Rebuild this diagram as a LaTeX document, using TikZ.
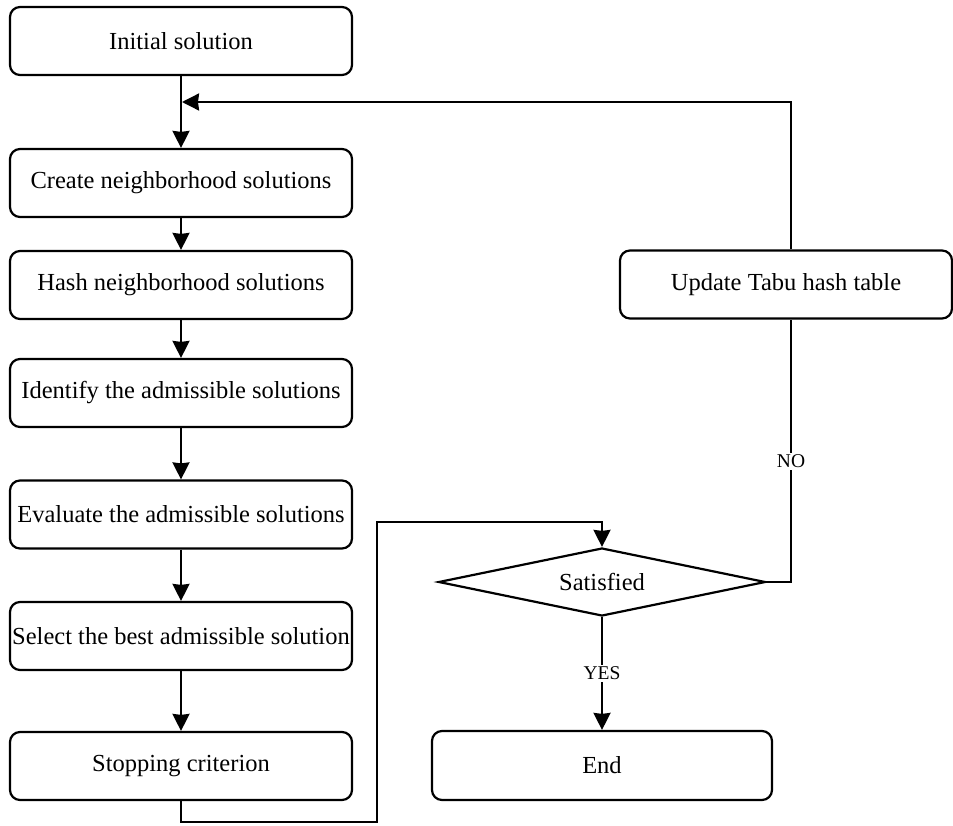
\documentclass[tikz,border=0pt]{standalone}
\usepackage{fontspec}
\setmainfont{Liberation Serif}
\usetikzlibrary{shapes.geometric,arrows.meta}
\begin{document}
\begin{tikzpicture}[x=1pt,y=-1pt,
  box/.style={draw,line width=2.2pt,rounded corners=10pt,minimum width=342pt,minimum height=68pt,inner sep=0pt,
    font=\fontsize{24.5}{29}\selectfont},
  decision/.style={draw,diamond,shape aspect=4.8,line width=2.2pt,minimum width=327pt,minimum height=68pt,inner sep=0pt,
    font=\fontsize{24.5}{29}\selectfont},
  flow/.style={line width=2.2pt,-{Stealth[length=17pt,width=17pt,inset=1pt]}},
  link/.style={line width=2.2pt},
  tag/.style={fill=white,inner sep=2pt,font=\fontsize{19.5}{23}\selectfont}]
\useasboundingbox (0,0) rectangle (953,825);

% main column
\node[box] (init)  at (181,41)    {Initial solution};
\node[box] (create) at (181,183)  {Create neighborhood solutions};
\node[box] (hash)  at (181,285)   {Hash neighborhood solutions};
\node[box] (ident) at (181,393)   {Identify the admissible solutions};
\node[box] (eval)  at (181,514.5) {Evaluate the admissible solutions};
\node[box] (sel)   at (181,636)   {Select the best admissible solution};
\node[box] (stop)  at (181,766)   {Stopping criterion};

% right column
\node[decision] (sat) at (602,582) {Satisfied};
\node[box,minimum width=332pt] (upd) at (786,284.5) {Update Tabu hash table};
\node[box,minimum width=340pt,minimum height=69pt] (fin) at (602,765.5) {End};

% routing points
\coordinate (low)   at (377,822);
\coordinate (high)  at (377,522);
\coordinate (side)  at (791,582);
\coordinate (top)   at (791,102);
\coordinate (merge) at (182,102);

% straight steps
\draw[flow] (init) -- (create);
\draw[flow] (create) -- (hash);
\draw[flow] (hash) -- (ident);
\draw[flow] (ident) -- (eval);
\draw[flow] (eval) -- (sel);
\draw[flow] (sel) -- (stop);

% stopping check
\draw[flow] (stop.south) |- (low) -- (high) -| (sat.north);
\draw[flow] (sat.south) -- node[tag,pos=0.5] {YES} (fin.north);
\draw[link] (sat.east) -- (side) -- node[tag,pos=0.46] {NO} (side |- upd.south);
\draw[flow] (top |- upd.north) -- (top) -- (merge);
\end{tikzpicture}
\end{document}
